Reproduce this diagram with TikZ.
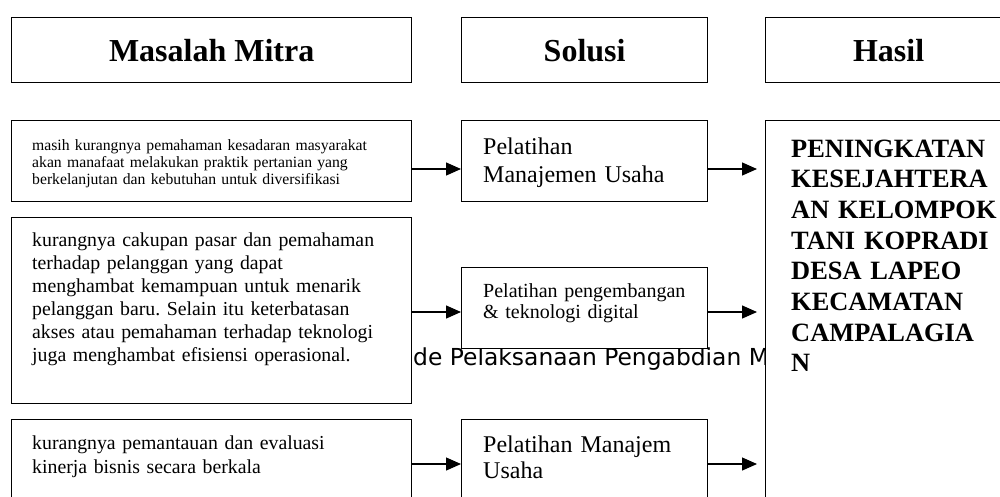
\documentclass[tikz,border=0pt]{standalone}
\usepackage{fontspec}
\setmainfont{Liberation Serif}
\newfontfamily\capfont{DejaVu Sans}
\usetikzlibrary{arrows.meta}
\frenchspacing

\begin{document}
\begin{tikzpicture}[x=1pt,y=-1pt,
    box/.style={draw,fill=white,line width=1.3pt,inner sep=0pt,anchor=north west},
    head/.style={box,minimum height=65pt,font=\bfseries\fontsize{32}{38}\selectfont},
    txt/.style={anchor=base west,inner sep=0pt,text width=#1,align=left},
    arr/.style={-{Triangle[length=15pt,width=13pt]},line width=1.3pt}]
    \clip (0,0) rectangle (1000,496);
    % caption left behind the boxes
    \node[anchor=base west,inner sep=0pt,font=\capfont\fontsize{23.4}{28}\selectfont] (cap) at (413,365) {de Pelaksanaan Pengabdian M};
    % header boxes
    \node[head,minimum width=400pt] (h1) at (11,17) {Masalah Mitra};
    \node[head,minimum width=246pt] (h2) at (461,17) {Solusi};
    \node[head,minimum width=246pt] (h3) at (765,17) {Hasil};
    % problem boxes
    \node[box,minimum width=400pt,minimum height=81pt] (p1) at (11,120) {};
    \node[box,minimum width=400pt,minimum height=186pt] (p2) at (11,217) {};
    \node[box,minimum width=400pt,minimum height=100pt] (p3) at (11,419) {};
    % solution boxes
    \node[box,minimum width=246pt,minimum height=81pt] (s1) at (461,120) {};
    \node[box,minimum width=246pt,minimum height=81pt] (s2) at (461,267) {};
    \node[box,minimum width=246pt,minimum height=100pt] (s3) at (461,419) {};
    % result box
    \node[box,minimum width=246pt,minimum height=400pt] (res) at (765,120) {};
    % problem texts
    \node[txt=380pt,font=\fontsize{15.7}{17}\selectfont] (t1) at (32,150)
        {masih kurangnya pemahaman kesadaran masyarakat\\akan manafaat melakukan praktik pertanian yang\\berkelanjutan dan kebutuhan untuk diversifikasi};
    \node[txt=380pt,font=\fontsize{19.8}{23}\selectfont] (t2) at (32,246)
        {kurangnya cakupan pasar dan pemahaman\\terhadap pelanggan yang dapat\\menghambat kemampuan untuk menarik\\pelanggan baru. Selain itu keterbatasan\\akses atau pemahaman terhadap teknologi\\juga menghambat efisiensi operasional.};
    \node[txt=380pt,font=\fontsize{19.8}{24}\selectfont] (t3) at (32,449)
        {kurangnya pemantauan dan evaluasi\\kinerja bisnis secara berkala};
    % solution texts
    \node[txt=220pt,font=\fontsize{24}{28}\selectfont] (u1) at (483,154) {Pelatihan\\Manajemen Usaha};
    \node[txt=220pt,font=\fontsize{20}{21.5}\selectfont] (u2) at (483,297) {Pelatihan pengembangan\\\& teknologi digital};
    \node[txt=220pt,font=\fontsize{24}{26.5}\selectfont] (u3) at (483,452) {Pelatihan Manajem\\Usaha};
    % result text
    \node[txt=225pt,font=\bfseries\fontsize{26.4}{30.7}\selectfont] (v) at (791,157)
        {PENINGKATAN\\KESEJAHTERA\\AN KELOMPOK\\TANI KOPRADI\\DESA LAPEO\\KECAMATAN\\CAMPALAGIA\\N};
    % arrows
    \coordinate (r1) at (0,169);
    \coordinate (r2) at (0,312);
    \coordinate (r3) at (0,464);
    \foreach \i in {1,2,3} {
        \draw[arr] (p\i.east |- r\i) -- (s\i.west |- r\i);
        \draw[arr,shorten >=8pt] (s\i.east |- r\i) -- (res.west |- r\i);
    }
\end{tikzpicture}
\end{document}
